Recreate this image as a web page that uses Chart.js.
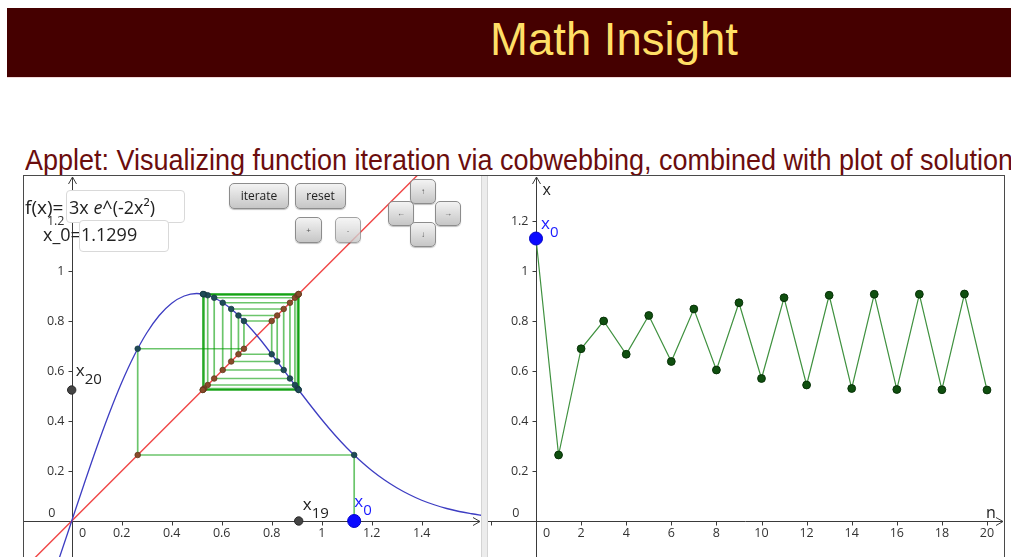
<!DOCTYPE html>
<html lang="en">
<head>
<meta charset="UTF-8" />
<title>Math Insight</title>
<script src="https://cdn.jsdelivr.net/npm/chart.js"></script>
<style>
  html, body { margin: 0; padding: 0; background: #fff; width: 1011px; height: 557px; overflow: hidden; }
  body { position: relative; font-family: "Liberation Sans", Arial, sans-serif; }
  #bar { position: absolute; left: 7px; top: 8px; width: 1004px; height: 69px; background: #450000; border-bottom: 1px solid #f2d9d9; }
  #brand { position: absolute; left: 490px; top: 16px; color: #ffdf66; font-size: 46px; line-height: 46px; white-space: nowrap; transform-origin: 0 0; }
  #title { position: absolute; left: 25px; top: 146px; color: #6b0d0d; font-size: 29px; line-height: 29px; white-space: nowrap; transform-origin: 0 0; }
  #applet { position: absolute; left: 23px; top: 175px; width: 982px; height: 400px; box-sizing: border-box; border: 1px solid #4a4a4a; border-bottom: none; }
  #cobweb { position: absolute; left: 0; top: 0; }
  #divider { position: absolute; left: 457px; top: 0; width: 5px; height: 400px; background: #ececec; border-left: 1px solid #d4d4d4; border-right: 1px solid #d4d4d4; }
  #series { position: absolute; left: 464px; top: 0; }
  .txt { position: absolute; font-family: "Open Sans", sans-serif; font-size: 18px; line-height: 18px; color: #222; white-space: nowrap; }
  .box { position: absolute; background: #fff; border: 1px solid #d9d9d9; border-radius: 4px; box-sizing: border-box; }
  .btn { position: absolute; box-sizing: border-box; border: 1px solid #8c8c8c; border-radius: 5px;
         background: linear-gradient(#f3f3f3, #c6c6c6); box-shadow: 0 1px 1px rgba(0,0,0,0.25);
         font-family: "Open Sans", sans-serif; font-size: 12px; color: #222; text-align: center; }
  .tiny { font-size: 8px; color: #555; }
</style>
</head>
<body>
  <div id="bar"></div>
  <div id="brand">Math Insight</div>
  <div id="title">Applet: Visualizing function iteration via cobwebbing, combined with plot of solution</div>

  <div id="applet">
    <canvas id="cobweb" width="457" height="381"></canvas>
    <div id="divider"></div>
    <canvas id="series" width="516" height="381"></canvas>
  </div>

  <!-- input fields -->
  <span class="txt" style="left:25px; top:198px; font-size:19px;">f(x)=</span>
  <div class="box" style="left:66px; top:190px; width:119px; height:33px;"></div>
  <span class="txt" style="left:69px; top:198px;">3x <i>e</i>^(-2x²)</span>
  <span class="txt" style="left:43px; top:225px;">x_0=</span>
  <div class="box" style="left:79px; top:220px; width:90px; height:32px;"></div>
  <span class="txt" style="left:81px; top:225px;">1.1299</span>

  <!-- buttons -->
  <div class="btn" style="left:229px; top:183px; width:60px; height:26px; line-height:23px;">iterate</div>
  <div class="btn" style="left:295px; top:183px; width:51px; height:26px; line-height:23px;">reset</div>
  <div class="btn tiny" style="left:295px; top:217px; width:27px; height:26px; line-height:24px;">+</div>
  <div class="btn tiny" style="left:335px; top:217px; width:26px; height:26px; line-height:24px; opacity:0.8;">-</div>
  <div class="btn tiny" style="left:410px; top:179px; width:26px; height:25px; line-height:22px;">↑</div>
  <div class="btn tiny" style="left:388px; top:201px; width:26px; height:25px; line-height:22px;">←</div>
  <div class="btn tiny" style="left:435px; top:201px; width:26px; height:25px; line-height:22px;">→</div>
  <div class="btn tiny" style="left:410px; top:222px; width:26px; height:25px; line-height:22px;">↓</div>

<script>
  // iterates x_n of f(x) = 3x e^(-2x^2), n = 0..20
  const steps = [0, 1, 2, 3, 4, 5, 6, 7, 8, 9, 10, 11, 12, 13, 14, 15, 16, 17, 18, 19, 20];
  const iterates = [1.1299, 0.264, 0.689, 0.800, 0.667, 0.822, 0.638, 0.848, 0.604, 0.873, 0.570,
                    0.893, 0.544, 0.903, 0.530, 0.907, 0.526, 0.907, 0.525, 0.908, 0.524];

  // graph of f
  const curveX = [-0.10, -0.05, 0, 0.05, 0.10, 0.15, 0.20, 0.25, 0.30, 0.35, 0.40, 0.45, 0.50, 0.55,
                  0.60, 0.65, 0.70, 0.75, 0.80, 0.85, 0.90, 0.95, 1.00, 1.05, 1.10, 1.15, 1.20, 1.25,
                  1.30, 1.35, 1.40, 1.45, 1.50, 1.55, 1.60, 1.65];
  const curveY = [-0.294, -0.149, 0, 0.149, 0.294, 0.430, 0.554, 0.662, 0.752, 0.822, 0.871, 0.900,
                  0.910, 0.901, 0.876, 0.838, 0.788, 0.731, 0.667, 0.601, 0.534, 0.469, 0.406, 0.347,
                  0.293, 0.245, 0.202, 0.165, 0.133, 0.106, 0.083, 0.065, 0.050, 0.038, 0.029, 0.021];

  // the line y = x
  const diagX = [-0.2, 1.4];

  const leftXTicks = [0.2, 0.4, 0.6, 0.8, 1, 1.2, 1.4];
  const leftYTicks = [0.2, 0.4, 0.6, 0.8, 1, 1.2];
  const rightXTicks = [2, 4, 6, 8, 10, 12, 14, 16, 18, 20];
  const rightYTicks = [0.2, 0.4, 0.6, 0.8, 1, 1.2];

  // fit header texts to their widths
  function fitWidth(id, w) {
    const el = document.getElementById(id);
    el.style.transform = 'scaleX(' + (w / el.getBoundingClientRect().width) + ')';
  }
  fitWidth('brand', 248);
  fitWidth('title', 988);

  // GeoGebra-like axes through the origin, plus subscripted point names
  const geoAxes = {
    id: 'geoAxes',
    beforeDatasetsDraw(chart, args, o) {
      const { ctx, chartArea: a } = chart;
      const sx = chart.scales.x, sy = chart.scales.y;
      const ox = Math.round(sx.getPixelForValue(0)) + 0.5;
      const oy = Math.round(sy.getPixelForValue(0)) + 0.5;
      ctx.save();
      ctx.strokeStyle = '#3a3a3a';
      ctx.lineWidth = 1;
      ctx.beginPath();
      ctx.moveTo(a.left, oy); ctx.lineTo(a.right - 1, oy);
      ctx.moveTo(ox, a.bottom); ctx.lineTo(ox, a.top + 1);
      ctx.moveTo(a.right - 8, oy - 4); ctx.lineTo(a.right - 1, oy); ctx.lineTo(a.right - 8, oy + 4);
      ctx.moveTo(ox - 4, a.top + 8); ctx.lineTo(ox, a.top + 1); ctx.lineTo(ox + 4, a.top + 8);
      for (const v of o.xTicks.concat(o.xMarks || [])) {
        const px = Math.round(sx.getPixelForValue(v)) + 0.5;
        ctx.moveTo(px, oy); ctx.lineTo(px, oy + 4);
      }
      for (const v of o.yTicks) {
        const py = Math.round(sy.getPixelForValue(v)) + 0.5;
        ctx.moveTo(ox - 4, py); ctx.lineTo(ox, py);
      }
      ctx.stroke();

      ctx.fillStyle = '#333';
      ctx.font = '12.5px "Open Sans"';
      ctx.textBaseline = 'middle';
      ctx.textAlign = 'center';
      for (const v of o.xTicks) ctx.fillText(String(v), sx.getPixelForValue(v), oy + 12);
      ctx.fillText('0', ox + 10, oy + 12);
      ctx.textAlign = 'right';
      for (const v of o.yTicks) ctx.fillText(String(v), ox - 8, sy.getPixelForValue(v));
      ctx.fillText('0', ox - 17, oy - 8);

      if (o.names) {
        ctx.fillStyle = '#222';
        ctx.font = '16px "Open Sans"';
        ctx.textBaseline = 'alphabetic';
        ctx.textAlign = 'left';
        ctx.fillText(o.names[1], ox + 6, a.top + 19);
        ctx.fillText(o.names[0], a.right - 18, oy - 4);
      }
      ctx.restore();
    },
    afterDatasetsDraw(chart, args, o) {
      const { ctx } = chart;
      ctx.save();
      ctx.textAlign = 'left';
      ctx.textBaseline = 'alphabetic';
      for (const l of o.labels || []) {
        const px = chart.scales.x.getPixelForValue(l.x) + l.dx;
        const py = chart.scales.y.getPixelForValue(l.y) + l.dy;
        ctx.fillStyle = l.color;
        ctx.font = '17px "Open Sans"';
        ctx.fillText('x', px, py);
        ctx.font = '15px "Open Sans"';
        ctx.fillText(l.sub, px + 9, py + 8);
      }
      ctx.restore();
    }
  };

  const N = iterates.length - 1;

  // cobweb legs: vertical to the graph, horizontal to the diagonal
  const legs = [];
  for (let n = 0; n < N; n++) {
    legs.push({
      type: 'scatter', showLine: true, order: 3,
      data: [{ x: iterates[n], y: n === 0 ? 0 : iterates[n] },
             { x: iterates[n], y: iterates[n + 1] },
             { x: iterates[n + 1], y: iterates[n + 1] }],
      borderColor: 'rgba(0,155,0,0.58)', borderWidth: 1.7, pointRadius: 0
    });
  }
  const onGraph = [], onDiag = [];
  for (let n = 0; n < N; n++) onGraph.push({ x: iterates[n], y: iterates[n + 1] });
  for (let n = 1; n <= N; n++) onDiag.push({ x: iterates[n], y: iterates[n] });

  const sharedY = { type: 'linear', display: false, bounds: 'data', min: -0.144, max: 1.38 };

  new Chart(document.getElementById('cobweb'), {
    type: 'scatter',
    data: {
      datasets: [
        { data: [{ x: 0, y: iterates[N] }, { x: iterates[N - 1], y: 0 }], order: 0,
          pointRadius: 4.2, pointBackgroundColor: '#444', pointBorderColor: '#2a2a2a', pointBorderWidth: 1 },
        { data: [{ x: iterates[0], y: 0 }], order: 0,
          pointRadius: 6.5, pointBackgroundColor: '#0a0aff', pointBorderColor: '#0000c8', pointBorderWidth: 1 },
        { data: onGraph, order: 1, pointRadius: 2.8, pointBackgroundColor: '#1f4b58', pointBorderColor: '#173a44', pointBorderWidth: 0.8 },
        { data: onDiag, order: 1, pointRadius: 2.8, pointBackgroundColor: '#8a4a2a', pointBorderColor: '#5e3a1c', pointBorderWidth: 0.8 },
        { data: curveX.map((x, i) => ({ x, y: curveY[i] })), showLine: true, order: 2,
          borderColor: '#3d3dc2', borderWidth: 1.3, pointRadius: 0, cubicInterpolationMode: 'monotone' },
        { data: diagX.map(x => ({ x, y: x })), showLine: true, order: 2,
          borderColor: '#f04545', borderWidth: 1.4, pointRadius: 0 },
        ...legs
      ]
    },
    options: {
      responsive: false, animation: false, events: [],
      layout: { padding: 0, autoPadding: false },
      scales: {
        x: { type: 'linear', display: false, bounds: 'data', min: -0.1908, max: 1.6372 },
        y: sharedY
      },
      plugins: {
        legend: { display: false }, tooltip: { enabled: false },
        geoAxes: {
          xTicks: leftXTicks, yTicks: leftYTicks,
          labels: [
            { x: 0, y: iterates[N], sub: String(N), dx: 4, dy: -14, color: '#222' },
            { x: iterates[N - 1], y: 0, sub: String(N - 1), dx: 4, dy: -11, color: '#222' },
            { x: iterates[0], y: 0, sub: '0', dx: 0, dy: -14, color: '#1a1aff' }
          ]
        }
      }
    },
    plugins: [geoAxes]
  });

  new Chart(document.getElementById('series'), {
    type: 'scatter',
    data: {
      datasets: [
        { data: [{ x: steps[0], y: iterates[0] }], order: 0,
          pointRadius: 6.5, pointBackgroundColor: '#0a0aff', pointBorderColor: '#0000c8', pointBorderWidth: 1 },
        { data: steps.map((n, i) => ({ x: n, y: iterates[i] })), showLine: true, order: 1,
          borderColor: '#3f913f', borderWidth: 1.2,
          pointRadius: ctx => ctx.dataIndex === 0 ? 0 : 3.9,
          pointBackgroundColor: '#0f4f0f', pointBorderColor: '#083208', pointBorderWidth: 1 }
      ]
    },
    options: {
      responsive: false, animation: false, events: [],
      layout: { padding: 0, autoPadding: false },
      scales: {
        x: { type: 'linear', display: false, bounds: 'data', min: -2.129, max: 20.754 },
        y: sharedY
      },
      plugins: {
        legend: { display: false }, tooltip: { enabled: false },
        geoAxes: {
          xTicks: rightXTicks, xMarks: [-2], yTicks: rightYTicks, names: ['n', 'x'],
          labels: [{ x: steps[0], y: iterates[0], sub: '0', dx: 5, dy: -10, color: '#1a1aff' }]
        }
      }
    },
    plugins: [geoAxes]
  });
</script>
</body>
</html>
